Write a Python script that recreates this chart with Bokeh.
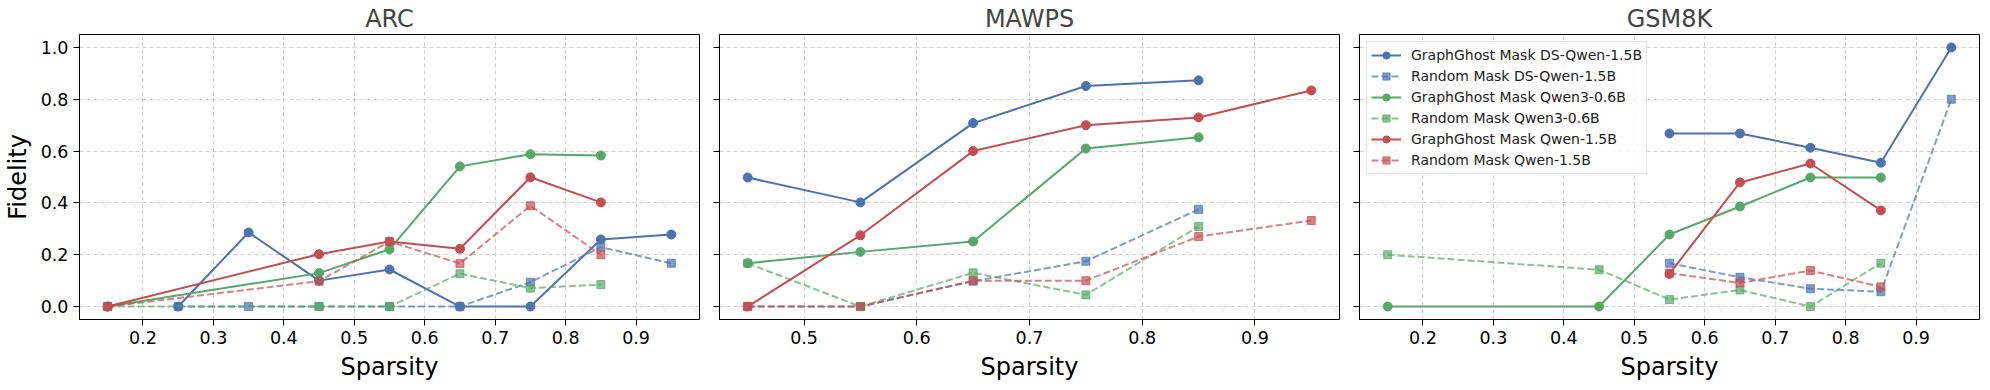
from bokeh.plotting import figure
from bokeh.layouts import row
from bokeh.models import Range1d, FixedTicker, PrintfTickFormatter
from bokeh.embed import file_html
from bokeh.resources import INLINE

# ---------------- data ----------------
TITLES = ["ARC", "MAWPS", "GSM8K"]
Y_TICKS = [0.0, 0.2, 0.4, 0.6, 0.8, 1.0]

arc_sparsity = [0.15, 0.25, 0.35, 0.45, 0.55, 0.65, 0.75, 0.85, 0.95]
arc_gg_ds = [None, 0.0, 0.286, 0.100, 0.143, 0.0, 0.0, 0.259, 0.278]
arc_rm_ds = [None, 0.0, 0.0, 0.0, 0.0, 0.0, 0.094, 0.229, 0.167]
arc_gg_q3 = [0.0, None, None, 0.129, 0.221, 0.541, 0.588, 0.583, None]
arc_rm_q3 = [0.0, None, None, 0.0, 0.0, 0.127, 0.071, 0.085, None]
arc_gg_q15 = [0.0, None, None, 0.202, 0.251, 0.223, 0.499, 0.402, None]
arc_rm_q15 = [0.0, None, None, 0.098, 0.251, 0.166, 0.389, 0.200, None]
arc_xticks = [0.2, 0.3, 0.4, 0.5, 0.6, 0.7, 0.8, 0.9]

mawps_sparsity = [0.45, 0.55, 0.65, 0.75, 0.85, 0.95]
mawps_gg_ds = [0.498, 0.402, 0.708, 0.851, 0.873, None]
mawps_rm_ds = [0.0, 0.0, 0.098, 0.175, 0.375, None]
mawps_gg_q3 = [0.167, 0.211, 0.251, 0.610, 0.653, None]
mawps_rm_q3 = [0.167, 0.0, 0.130, 0.045, 0.309, None]
mawps_gg_q15 = [0.0, 0.275, 0.600, 0.700, 0.730, 0.834]
mawps_rm_q15 = [0.0, 0.0, 0.100, 0.100, 0.270, 0.332]
mawps_xticks = [0.5, 0.6, 0.7, 0.8, 0.9]

gsm_sparsity = [0.15, 0.25, 0.35, 0.45, 0.55, 0.65, 0.75, 0.85, 0.95]
gsm_gg_ds = [None, None, None, None, 0.668, 0.668, 0.613, 0.555, 1.0]
gsm_rm_ds = [None, None, None, None, 0.167, 0.113, 0.069, 0.057, 0.80]
gsm_gg_q3 = [0.0, None, None, 0.0, 0.278, 0.386, 0.498, 0.498, None]
gsm_rm_q3 = [0.2, None, None, 0.142, 0.027, 0.064, 0.0, 0.167, None]
gsm_gg_q15 = [None, None, None, None, 0.126, 0.479, 0.552, 0.371, None]
gsm_rm_q15 = [None, None, None, None, 0.129, 0.091, 0.139, 0.076, None]
gsm_xticks = [0.2, 0.3, 0.4, 0.5, 0.6, 0.7, 0.8, 0.9]

SERIES_NAMES = [
    "GraphGhost Mask DS-Qwen-1.5B",
    "Random Mask DS-Qwen-1.5B",
    "GraphGhost Mask Qwen3-0.6B",
    "Random Mask Qwen3-0.6B",
    "GraphGhost Mask Qwen-1.5B",
    "Random Mask Qwen-1.5B",
]
SERIES_COLORS = ["#4C72B0", "#4C72B0", "#55A868", "#55A868", "#C44E52", "#C44E52"]

FONT = "DejaVu Sans"


def clean(xs, ys):
    pts = [(x, y) for x, y in zip(xs, ys) if y is not None]
    return [p[0] for p in pts], [p[1] for p in pts]


def make_fig(title, xrange_, xticks, sparsity, series, first, last, legend):
    p = figure(
        frame_width=620, frame_height=285,
        x_range=Range1d(*xrange_), y_range=Range1d(-0.05, 1.05),
        output_backend="svg", toolbar_location=None,
        min_border_left=71 if first else 10,
        min_border_right=3 if last else 10,
        min_border_top=29, min_border_bottom=60,
        title=title,
    )
    p.title.text_font = FONT
    p.title.text_font_size = "24px"
    p.title.text_font_style = "normal"
    p.title.align = "center"
    p.title.standoff = 4
    p.outline_line_color = "black"
    p.outline_line_width = 1
    p.background_fill_color = "white"
    p.border_fill_color = "white"

    for ax in (p.xaxis[0], p.yaxis[0]):
        ax.axis_line_color = "black"
        ax.major_tick_line_color = "black"
        ax.major_tick_out = 6
        ax.major_tick_in = 0
        ax.minor_tick_line_color = None
        ax.major_label_text_font = FONT
        ax.major_label_text_font_size = "17.5px"
        ax.major_label_text_color = "black"
        ax.axis_label_text_font = FONT
        ax.axis_label_text_font_size = "24px"
        ax.axis_label_text_font_style = "normal"
        ax.axis_label_text_color = "black"

    p.xaxis.ticker = FixedTicker(ticks=xticks)
    p.xaxis.formatter = PrintfTickFormatter(format="%.1f")
    p.xaxis.axis_label = "Sparsity"
    p.xaxis.axis_label_standoff = 6
    p.yaxis.ticker = FixedTicker(ticks=Y_TICKS)
    p.yaxis.formatter = PrintfTickFormatter(format="%.1f")
    if first:
        p.yaxis.axis_label = "Fidelity"
        p.yaxis.axis_label_standoff = 6
    else:
        # shared y axis: tick marks only, labels not painted
        p.yaxis.major_label_text_font_size = "0px"
        p.yaxis.major_label_text_color = None
        p.yaxis.major_label_standoff = 0

    for g in (p.xgrid[0], p.ygrid[0]):
        g.grid_line_color = "#b0b0b0"
        g.grid_line_alpha = 0.6
        g.grid_line_dash = "4 3"
        g.grid_line_width = 1

    for i, ys in enumerate(series):
        xs, yv = clean(sparsity, ys)
        color = SERIES_COLORS[i]
        kw = {"legend_label": SERIES_NAMES[i]} if legend else {}
        if i % 2 == 0:
            p.line(xs, yv, line_color=color, line_width=2, **kw)
            p.scatter(xs, yv, marker="circle", size=9, fill_color=color,
                      line_color=color, **kw)
        else:
            p.line(xs, yv, line_color=color, line_width=2, line_alpha=0.7,
                   line_dash="7 3", **kw)
            p.scatter(xs, yv, marker="square", size=8, fill_color=color,
                      fill_alpha=0.7, line_color=color, line_alpha=0.7, **kw)

    if legend:
        lg = p.legend[0]
        lg.location = "top_left"
        lg.margin = 7
        lg.padding = 4
        lg.spacing = 3
        lg.label_height = 18
        lg.glyph_height = 18
        lg.glyph_width = 30
        lg.label_standoff = 10
        lg.label_text_font = FONT
        lg.label_text_font_size = "14px"
        lg.label_text_color = "#222222"
        lg.border_line_color = "#cccccc"
        lg.border_line_width = 1
        lg.background_fill_color = "white"
        lg.background_fill_alpha = 0.8
    return p


p1 = make_fig(TITLES[0], (0.11, 0.99), arc_xticks, arc_sparsity,
              [arc_gg_ds, arc_rm_ds, arc_gg_q3, arc_rm_q3, arc_gg_q15, arc_rm_q15],
              True, False, False)
p2 = make_fig(TITLES[1], (0.425, 0.975), mawps_xticks, mawps_sparsity,
              [mawps_gg_ds, mawps_rm_ds, mawps_gg_q3, mawps_rm_q3, mawps_gg_q15, mawps_rm_q15],
              False, False, False)
p3 = make_fig(TITLES[2], (0.11, 0.99), gsm_xticks, gsm_sparsity,
              [gsm_gg_ds, gsm_rm_ds, gsm_gg_q3, gsm_rm_q3, gsm_gg_q15, gsm_rm_q15],
              False, True, True)

layout = row(p1, p2, p3, spacing=0)
open("out.html", "w").write(file_html(layout, INLINE))
